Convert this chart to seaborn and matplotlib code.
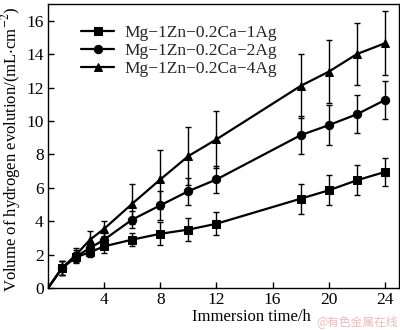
import matplotlib
matplotlib.use("Agg")
import matplotlib.pyplot as plt
import seaborn as sns
import pandas as pd
import numpy as np

time_h = [0, 1, 2, 3, 4, 6, 8, 10, 12, 18, 20, 22, 24]
ag1 = [0, 1.2, 1.85, 2.15, 2.5, 2.9, 3.25, 3.5, 3.85, 5.35, 5.85, 6.45, 6.95]
ag1_err = [0, 0.4, 0.3, 0.3, 0.4, 0.4, 0.7, 0.7, 0.7, 0.9, 0.9, 0.9, 0.85]
ag2 = [0, 1.2, 1.9, 2.4, 2.9, 4.1, 4.95, 5.8, 6.5, 9.15, 9.75, 10.4, 11.25]
ag2_err = [0, 0.4, 0.4, 0.35, 0.4, 0.5, 0.85, 0.8, 0.8, 1.15, 1.2, 1.15, 1.15]
ag4 = [0, 1.2, 2.0, 2.9, 3.55, 5.05, 6.5, 7.9, 8.9, 12.1, 12.95, 14.0, 14.65]
ag4_err = [0, 0.4, 0.4, 0.5, 0.45, 1.2, 1.75, 1.75, 1.7, 1.9, 1.9, 1.85, 1.9]
labels = ["Mg\u22121Zn\u22120.2Ca\u22121Ag", "Mg\u22121Zn\u22120.2Ca\u22122Ag", "Mg\u22121Zn\u22120.2Ca\u22124Ag"]
markers = ["s", "o", "^"]

sns.set_theme(style="white")
plt.rcParams["font.family"] = ["Liberation Serif", "DejaVu Serif"]
plt.rcParams["mathtext.fontset"] = "stix"

fig = plt.figure(figsize=(4.0, 3.3), dpi=100)
ax = fig.add_axes([0.12, 0.127, 0.8775, 0.861])

series = [(ag1, ag1_err), (ag2, ag2_err), (ag4, ag4_err)]
frames = []
for lab, (vals, errs) in zip(labels, series):
    frames.append(pd.DataFrame({"t": time_h, "v": vals, "e": errs, "alloy": lab}))
df = pd.concat(frames, ignore_index=True)

for lab, mk in zip(labels, markers):
    sub = df[df["alloy"] == lab]
    ax.errorbar(sub["t"][1:], sub["v"][1:], yerr=sub["e"][1:], fmt="none",
                ecolor="black", elinewidth=1.0, capsize=2.5, capthick=1.0, zorder=2)
    sns.lineplot(data=sub, x="t", y="v", ax=ax, color="black", linewidth=1.6,
                 marker=mk, markersize=6, markeredgecolor="black",
                 markevery=list(range(1, len(sub))), label=lab, zorder=3)

ax.set_xlim(0, 25)
ax.set_ylim(0, 17)
ax.set_xticks(range(0, 25, 4))
ax.set_yticks(range(0, 17, 2))
ax.set_xticklabels([""] + [str(v) for v in range(4, 25, 4)])
ax.tick_params(direction="in", length=4, width=1, labelsize=12.5, colors="black",
               bottom=True, left=True, pad=3)
for s in ax.spines.values():
    s.set_color("black")
    s.set_linewidth(1.0)

ax.set_xlabel("Immersion time/h", fontsize=12, color="black", labelpad=1)
ax.xaxis.set_label_coords(0.58, -0.075)
ax.set_ylabel("Volume of hydrogen evolution/(mL$\\cdot$cm$^{-2}$)", fontsize=12,
              color="black", labelpad=1)
ax.yaxis.set_label_coords(-0.072, 0.49)

leg = ax.legend(loc="upper left", bbox_to_anchor=(0.075, 0.95), frameon=False,
                fontsize=12.5, handlelength=1.9, handletextpad=0.6, labelspacing=0.1,
                borderaxespad=0)

fig.text(0.995, 0.005, "@有色金属在线", ha="right", va="bottom", fontsize=8.5,
         color="#f4b8b8", family=["Noto Sans CJK SC", "DejaVu Sans"])

fig.savefig("out.png", dpi=100)
